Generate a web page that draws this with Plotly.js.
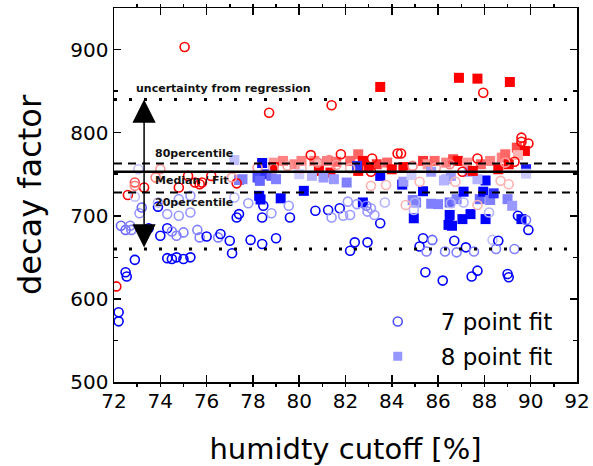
<!DOCTYPE html>
<html>
<head>
<meta charset="utf-8">
<script src="https://cdn.plot.ly/plotly-3.0.1.min.js"></script>
<style>html,body{margin:0;padding:0;background:#fff;}#chart{width:593px;height:466px;}</style>
</head>
<body>
<div id="chart"></div>
<script>
// 7 point fit (open circles): humidity cutoff, decay factor, colour value (-1 blue .. 0 white .. +1 red)
const x7 = [72.1,72.2,72.2,72.5,72.55,72.9,72.3,72.5,72.7,72.6,72.9,72.9,73.1,73.05,74.0,73.3,72.9,73.8,72.75,73.5,73.2,73.9,
  74.8,75.2,75.7,75.8,75.5,76.2,74.8,75.3,73.9,74.3,74.8,75.3,74.0,74.3,74.5,74.7,75.0,75.6,75.7,76.0,76.5,76.6,77.0,77.1,77.3,77.8,77.9,
  74.3,74.5,74.7,75.0,75.3,75.05,77.3,77.1,77.2,77.4,78.4,78.4,78.45,78.8,79.0,79.6,79.55,80.7,81.25,81.4,81.75,81.9,82.1,82.4,82.2,
  78.7,81.4,80.5,81.8,81.3,78.2,78.9,79.5,80.1,80.8,81.6,82.2,82.95,83.5,82.95,83.1,83.25,83.7,82.2,
  85.35,85.2,85.5,85.75,85.45,86.2,86.3,86.7,86.8,87.2,87.55,87.45,87.7,88.35,88.6,88.5,89.0,89.05,89.3,89.45,89.8,89.9,
  84.95,85.0,86.55,87.1,88.2,83.1,83.75,85.2,86.75,88.7,89.05,84.6,87.7,84.25,84.4,83.15,87.7,89.3,87.05,83.1,
  87.95,89.6,89.6,89.9,82.5,82.9,88.9,84.9,85.9,86.5];
const y7 = [615,584,573,632,627,647,688,683,688,725,740,723,703,756,756,734,736,746,683,685,710,711,
  734,748,738,740,740,748,720,724,716,702,700,704,676,685,681,676,680,683,674,675,674,678,670,655,698,715,671,
  649,648,650,648,650,903,739,746,722,702,698,666,712,703,673,698,712,706,707,698,709,700,717,668,658,
  824,833,773,774,767,758,757,760,757,764,761,757,668,691,705,709,701,716,701,
  673,663,657,671,632,622,657,670,656,662,657,627,634,671,670,660,630,626,660,700,695,683,
  707,716,715,716,704,736,737,741,741,742,738,713,713,775,775,769,769,765,753,753,
  848,794,789,787,714,712,764,760,758,762];
const c7 = [1,-1,-1,-1,-1,-1,-0.6,-0.6,-0.5,1,0.7,-0.25,-0.4,-0.25,0.4,1,0.5,0.5,-0.5,-1,-0.6,-1,
  1,1,1,1,1,1,-0.4,-0.4,-0.3,-0.4,-0.4,-0.4,-1,-1,-0.5,-0.5,-0.5,-0.5,-0.5,-1,-0.5,-1,-1,-1,-1,-0.4,-1,
  -1,-1,-1,-1,-1,1,1,0.4,-0.3,-1,-1,-1,-1,-0.4,-1,-1,-0.4,-1,-1,-0.4,-1,-0.4,-0.4,-1,-1,
  1,1,1,1,0.5,0.4,0.3,0.4,0.3,0.5,0.4,0.3,-1,-1,-0.4,-0.4,-0.4,-0.3,-0.4,
  -1,-1,-0.5,-0.6,-1,-1,-0.5,-1,-0.5,-1,-0.5,-1,-1,-0.25,-1,-0.5,-1,-1,-0.5,-1,-0.5,-1,
  -0.3,-0.3,-0.3,-0.3,-0.3,0.3,0.3,0.3,0.3,0.3,0.3,0.3,0.3,1,1,1,1,1,1,1,
  1,1,1,1,-0.4,-0.5,0.4,0.5,0.4,0.5];

// 8 point fit (filled squares)
const x8 = [77.2,77.4,78.4,78.9,79.3,79.8,80.1,80.65,80.85,81.2,81.6,78.9,80.85,81.35,77.55,78.2,78.55,78.8,78.3,79.0,80.0,80.55,81.05,81.5,
  78.27,78.33,79.2,80.2,82.55,82.2,82.75,83.35,83.8,84.5,85.35,85.55,85.85,86.35,86.65,86.85,82.55,82.5,83.5,82.05,84.45,84.5,84.85,86.35,86.55,
  85.35,84.9,85.05,85.7,86.0,86.5,86.8,87.1,82.75,84.95,86.5,86.45,86.6,87.05,87.4,87.8,87.95,88.05,88.05,88.25,88.4,89.0,89.2,89.6,89.8,89.8,
  85.7,86.25,87.35,87.7,87.25,87.85,88.25,88.6,88.75,88.9,89.05,89.4,89.75,89.45,87.5,83.5,86.9,87.7,89.1,83.0,84.0];
const y8 = [767,743,763.5,764,766,762,766,766,762,766,765,758.6,754,752,744,746,750,748,742,744,750,748,746,744,
  724,719.6,721,730,774,766,766,762,764,758.6,766,762,766,764,768,766,754,760,748,740,737.5,741,749,744,748,
  729.5,719,716,714.5,714,716,720,729,716,697,701,689,688,696,702,720,729,742.5,696,719,727,720,712,696,756,750.6,
  753,742.5,753,744,764,762,766,756,770,774,762,782,778,773,754,855,866,865,861,758,756];
const c8 = [-0.25,-0.5,-1,0.4,0.5,0.5,0.5,0.5,0.3,0.5,0.6,1,1,1,-0.5,-0.7,-0.8,-0.6,-0.6,-0.5,-0.2,-0.3,-0.4,-0.4,
  -1,-1,-1,-1,0.6,0.6,1,0.8,0.6,1,0.8,0.4,0.6,0.5,0.7,1,1,-0.8,-1,-0.5,-1,-0.4,-0.2,-0.3,-0.4,
  -1,-0.5,-0.5,-0.5,-0.5,-0.6,-0.5,-1,-1,-1,-1,-1,-1,-1,-1,-0.6,-1,-1,-1,-0.5,-0.8,-0.5,-0.4,-1,-0.9,-0.2,
  -0.4,-0.3,-0.4,-0.3,0.4,0.6,0.5,1,0.5,0.6,1,0.7,1,0.3,1,1,1,1,1,1,1];

// reference levels
const upperBound = 840, lowerBound = 660;
const p80 = 763, medianFit = 753, p20 = 728;
const arrowX = 73.3;
const levelLabels = ['uncertainty from regression','80percentile','Median / Fit','20percentile'];
const labelY = [853, 775, 743, 716];
const labelX = [72.85, 73.67, 73.67, 73.67];

const cscale = [[0,'rgb(0,0,255)'],[0.5,'rgb(255,255,255)'],[1,'rgb(255,0,0)']];

const traces = [
  {type:'scatter', mode:'markers', x:x8, y:y8, showlegend:false, hoverinfo:'skip',
   marker:{symbol:'square', size:10, color:c8, colorscale:cscale, cmin:-1, cmax:1, line:{width:0}}},
  {type:'scatter', mode:'markers', x:x7, y:y7, showlegend:false, hoverinfo:'skip',
   marker:{symbol:'circle-open', size:9, color:c7, colorscale:cscale, cmin:-1, cmax:1, line:{width:1.6}}},
  {type:'scatter', mode:'markers', x:[null], y:[null], name:'7 point fit', legendgroup:'a',
   marker:{symbol:'circle-open', size:9, color:'rgb(80,80,255)', line:{width:1.6}}},
  {type:'scatter', mode:'markers', x:[null], y:[null], name:'8 point fit', legendgroup:'b',
   marker:{symbol:'square', size:9, color:'rgb(150,150,255)'}}
];

const hline = (y, dash, w) => ({type:'line', xref:'paper', x0:0, x1:1, yref:'y', y0:y, y1:y, layer:'above',
  line:{color:'black', width:w, dash:dash}});

const annotations = levelLabels.map((t,i) => ({xref:'x', yref:'y', x:labelX[i], y:labelY[i], text:t, showarrow:false,
  xanchor:'left', yanchor:'middle', font:{family:'DejaVu Sans', size:11, color:'#111', weight:'bold'}}));
annotations.push({xref:'x', yref:'y', x:arrowX, y:upperBound, axref:'x', ayref:'y', ax:arrowX, ay:lowerBound,
  text:'', showarrow:true, arrowside:'end+start', arrowhead:2, startarrowhead:2, arrowsize:3.1, startarrowsize:3.1,
  arrowwidth:1.5, arrowcolor:'black', standoff:0, startstandoff:0});

const axisCommon = {showline:true, linewidth:1.5, linecolor:'black', mirror:'ticks', ticks:'inside', ticklen:7,
  tickwidth:1.5, tickcolor:'black', showgrid:false, zeroline:false,
  tickfont:{family:'DejaVu Sans', size:20, color:'black'}};

const layout = {
  width:593, height:466, margin:{l:114, r:16, t:8, b:84},
  paper_bgcolor:'white', plot_bgcolor:'white',
  xaxis:Object.assign({}, axisCommon, {range:[72,92], tick0:72, dtick:2,
    minor:{dtick:1, ticks:'outside', ticklen:3, tickwidth:1.5, tickcolor:'black'},
    title:{text:'humidty cutoff [%]', font:{family:'DejaVu Sans', size:29, color:'black'}, standoff:28}}),
  yaxis:Object.assign({}, axisCommon, {range:[500,950], tick0:500, dtick:100,
    minor:{dtick:50, ticks:'inside', ticklen:4, tickwidth:1.5, tickcolor:'black'},
    title:{text:'decay factor', font:{family:'DejaVu Sans', size:32, color:'black'}, standoff:19}}),
  shapes:[hline(upperBound,'3px,12px',3), hline(lowerBound,'3px,12px',3), hline(p80,'8px,6px',2), hline(p20,'8px,6px',2), hline(medianFit,'solid',2.5)],
  annotations:annotations,
  showlegend:true,
  legend:{x:0.52, y:0.115, xanchor:'left', yanchor:'middle', bgcolor:'rgba(0,0,0,0)', itemwidth:76, tracegroupgap:2,
    font:{family:'DejaVu Sans', size:23, color:'black'}, itemsizing:'trace'}
};

Plotly.newPlot('chart', traces, layout, {displayModeBar:false, staticPlot:true});
</script>
</body>
</html>
